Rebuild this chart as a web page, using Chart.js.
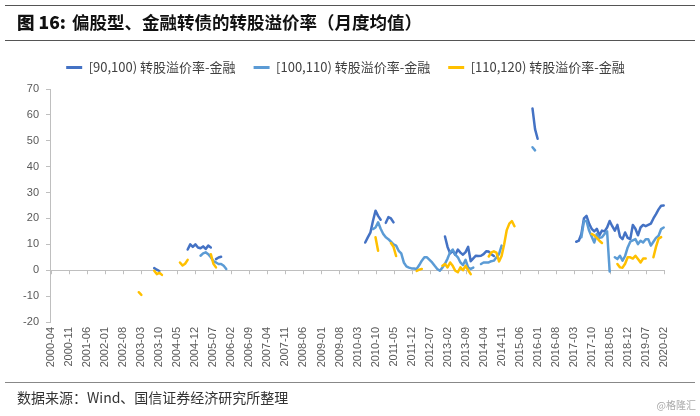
<!DOCTYPE html>
<html>
<head>
<meta charset="utf-8">
<script src="https://cdn.jsdelivr.net/npm/chart.js@4"></script>
<style>
html,body{margin:0;padding:0;background:#fff;}
#wrap{position:relative;width:700px;height:416px;overflow:hidden;font-family:"Noto Sans CJK SC","Noto Sans",sans-serif;}
#c{position:absolute;left:0;top:0;}
.rule{position:absolute;left:5px;width:690px;height:0;}
#r1{top:5px;border-top:1.5px solid #555;}
#r2{top:40px;border-top:1.5px solid #555;}
#r3{top:382px;border-top:1.5px solid #888;}
#title{position:absolute;left:17px;top:12px;font-size:17.5px;line-height:20px;color:#111;white-space:nowrap;font-weight:700;}
#title b{margin-right:6px;}
#src{position:absolute;left:17px;top:388px;font-size:14px;line-height:18px;color:#333;white-space:nowrap;}
#wm{position:absolute;right:4px;top:398px;font-size:10px;line-height:14px;color:#aaa;white-space:nowrap;}
</style>
</head>
<body>
<div id="wrap">
  <canvas id="c" width="700" height="416"></canvas>
  <div class="rule" id="r1"></div>
  <div class="rule" id="r2"></div>
  <div class="rule" id="r3"></div>
  <div id="title"><b>图 16:</b>偏股型、金融转债的转股溢价率（月度均值）</div>
  <div id="src">数据来源：Wind、国信证券经济研究所整理</div>
  <div id="wm">@格隆汇</div>
</div>
<script>
// ---- data ----
const startMonth = '2000-04';
const endMonth = '2020-02';
const tickEvery = 7;
const seriesNames = ['[90,100) 转股溢价率-金融', '[100,110) 转股溢价率-金融', '[110,120) 转股溢价率-金融'];

// each entry: [first month of a continuous run, monthly values]
const rate90to100 = [
  ['2003-08', [0.8, 0.2, -0.3]],
  ['2004-09', [8, 10, 9, 10, 8.8, 8.5, 9.2, 8.2, 9.5, 8.8]],
  ['2005-08', [4.3, 4.9, 5.2]],
  ['2010-06', [10.7, 12.7, 14.5, 19, 23, 21, 19.5]],
  ['2011-02', [18.3, 20.5, 20, 18.5]],
  ['2013-01', [13, 9, 6.5, 7.5, 6, 8, 6.8, 6, 7, 9, 3.5, 4.6, 5.6, 5.5, 5.6, 6.2, 7.3, 7.2, 6.2, 5.5]],
  ['2015-11', [62.5, 54.5, 50.8]],
  ['2017-04', [11, 11.4, 14, 20, 21, 18, 16, 15, 16, 13.5, 15.3, 15, 16.5, 19, 17, 15.3, 17.5, 13, 12, 14.6, 12.5, 12, 17.5, 16, 13.5, 16.5, 17.5, 17, 17.5, 18, 20, 21.7, 23.5, 24.9, 25]]
];
const rate100to110 = [
  ['2005-02', [5.6, 6.5, 6.9, 6.2, 5, 3.5, 3, 2.4, 2.4, 1.7, 0.5]],
  ['2010-09', [15.9, 16.5, 18.5, 16, 14, 12.7, 12, 11, 10, 9.5, 7.5, 6.5, 3, 1.5, 1, 0.7, 0.7, 0.5, 2, 3.7, 5, 5, 4, 3, 1.7, 0.5, -0.2, 1, 2.5, 4.5, 7, 8, 6, 5, 3, 2, 4, 1, 0.5, 1]],
  ['2014-03', [2.4, 3, 3, 3, 3.5, 3.7, 5, 6.2, 9.5]],
  ['2015-11', [47.5, 46.3]],
  ['2017-06', [12.7, 19, 19, 15.3, 13, 10.7, 14, 12.5, 12.7, 14, 15, -0.5]],
  ['2018-07', [5, 4.3, 5.6, 3.7, 5.5, 8.8, 11, 11.5, 12, 10.1, 11.4, 10.7, 12, 12, 9.5, 11, 12.5, 13.3, 15.9, 16.5]]
];
const rate110to120 = [
  ['2003-02', [-8.5, -9.5]],
  ['2003-08', [-0.2, -1.5, -1.0, -1.8]],
  ['2004-06', [3, 1.8, 2.5, 4]],
  ['2005-06', [6.2, 2.5, 1.1]],
  ['2010-10', [12.7, 7.5]],
  ['2011-04', [10.5, 9, 5.5]],
  ['2012-02', [-0.3, 0.2, 0.5]],
  ['2012-12', [1.7, 2.4, 1.1, 3, 1.7, -0.2, -0.8, 1.1, 0, 1.7, 0, -1.5]],
  ['2014-06', [5.3, 6.9, 7.3, 6.8, 3.4, 5.5, 10, 15.5, 18, 19, 17]],
  ['2017-10', [14, 13.5, 12.5, 11.4, 10.5]],
  ['2018-08', [2.4, 1.1, 1, 2.5, 5, 5, 4.5, 5.6, 4.3, 3, 4.5, 4.5]],
  ['2019-10', [5, 9, 12.2, 12.8]]
];
const yMin = -20, yMax = 70, yStep = 10;

// ---- build ----
function monthList(a, b) {
  let [y, m] = a.split('-').map(Number);
  const [ey, em] = b.split('-').map(Number);
  const out = [];
  while (y < ey || (y === ey && m <= em)) {
    out.push(y + '-' + String(m).padStart(2, '0'));
    m++; if (m > 12) { m = 1; y++; }
  }
  return out;
}
const categories = monthList(startMonth, endMonth);
function toSeries(runs) {
  const arr = categories.map(() => null);
  runs.forEach(([start, vals]) => {
    const k = categories.indexOf(start);
    vals.forEach((v, j) => { arr[k + j] = v; });
  });
  return arr;
}

const AXIS = '#BFBFBF';
const zeroTicks = {
  id: 'zeroTicks',
  beforeDatasetsDraw(chart) {
    const xs = chart.scales.x, ys = chart.scales.y, ctx = chart.ctx;
    const y0 = ys.getPixelForValue(0);
    ctx.save();
    ctx.strokeStyle = AXIS; ctx.lineWidth = 1;
    ctx.beginPath();
    for (let i = 0; i < categories.length; i += tickEvery) {
      const px = Math.round(xs.getPixelForTick(i)) + 0.5;
      ctx.moveTo(px, y0); ctx.lineTo(px, y0 + 4);
    }
    ctx.stroke();
    ctx.restore();
  }
};

function ds(label, data, color, order) {
  return {label, data, borderColor: color, backgroundColor: color, borderWidth: 2.5,
    pointRadius: 0, pointHoverRadius: 0, tension: 0, spanGaps: false, order,
    xAxisID: 'x', yAxisID: 'y', borderJoinStyle: 'round', borderCapStyle: 'round'};
}

new Chart(document.getElementById('c'), {
  type: 'line',
  data: {
    labels: categories,
    datasets: [
      ds(seriesNames[0], toSeries(rate90to100), '#4472C4', 2),
      ds(seriesNames[1], toSeries(rate100to110), '#5B9BD5', 1),
      ds(seriesNames[2], toSeries(rate110to120), '#FFC000', 0)
    ]
  },
  options: {
    responsive: false,
    animation: false,
    layout: {padding: {top: 43, left: 0, right: 9, bottom: 0}},
    plugins: {
      legend: {
        position: 'top',
        labels: {
          boxWidth: 16, boxHeight: 3, padding: 18, color: '#404040',
          font: {family: '"Noto Sans CJK SC", sans-serif', size: 13},
          sort: (a, b) => a.datasetIndex - b.datasetIndex,
          generateLabels(chart) {
            const items = Chart.defaults.plugins.legend.labels.generateLabels(chart);
            items.forEach(it => { it.lineWidth = 0; it.fillStyle = it.strokeStyle; });
            return items;
          }
        }
      },
      tooltip: {enabled: false}
    },
    scales: {
      x: {
        type: 'category', position: 'bottom', offset: true,
        grid: {display: false, drawTicks: false},
        border: {display: false},
        ticks: {
          autoSkip: false, maxRotation: 90, minRotation: 90, padding: 5,
          color: '#595959', font: {family: '"Liberation Sans", Arial, sans-serif', size: 11},
          callback(v, i) { return i % tickEvery === 0 ? categories[i] : ''; }
        },
        afterFit(s) { s.height = 94; }
      },
      spacerTop: {
        type: 'category', position: 'top', display: true,
        grid: {display: false, drawTicks: false}, border: {display: false},
        ticks: {display: false},
        afterFit(s) { s.height = 5; }
      },
      spacerRight: {
        type: 'linear', position: 'right', display: true,
        grid: {display: false, drawTicks: false}, border: {display: false},
        ticks: {display: false},
        afterFit(s) { s.width = 26; }
      },
      y: {
        min: yMin, max: yMax,
        ticks: {stepSize: yStep, color: '#595959', padding: 7,
          font: {family: '"Liberation Sans", Arial, sans-serif', size: 11}},
        grid: {
          color: c => (c.tick && c.tick.value === 0) ? AXIS : 'rgba(0,0,0,0)',
          tickColor: AXIS, tickLength: 4, drawTicks: true, lineWidth: 1
        },
        border: {display: true, color: AXIS, width: 1},
        afterFit(s) { s.width = 50; }
      }
    }
  },
  plugins: [zeroTicks]
});
</script>
</body>
</html>
